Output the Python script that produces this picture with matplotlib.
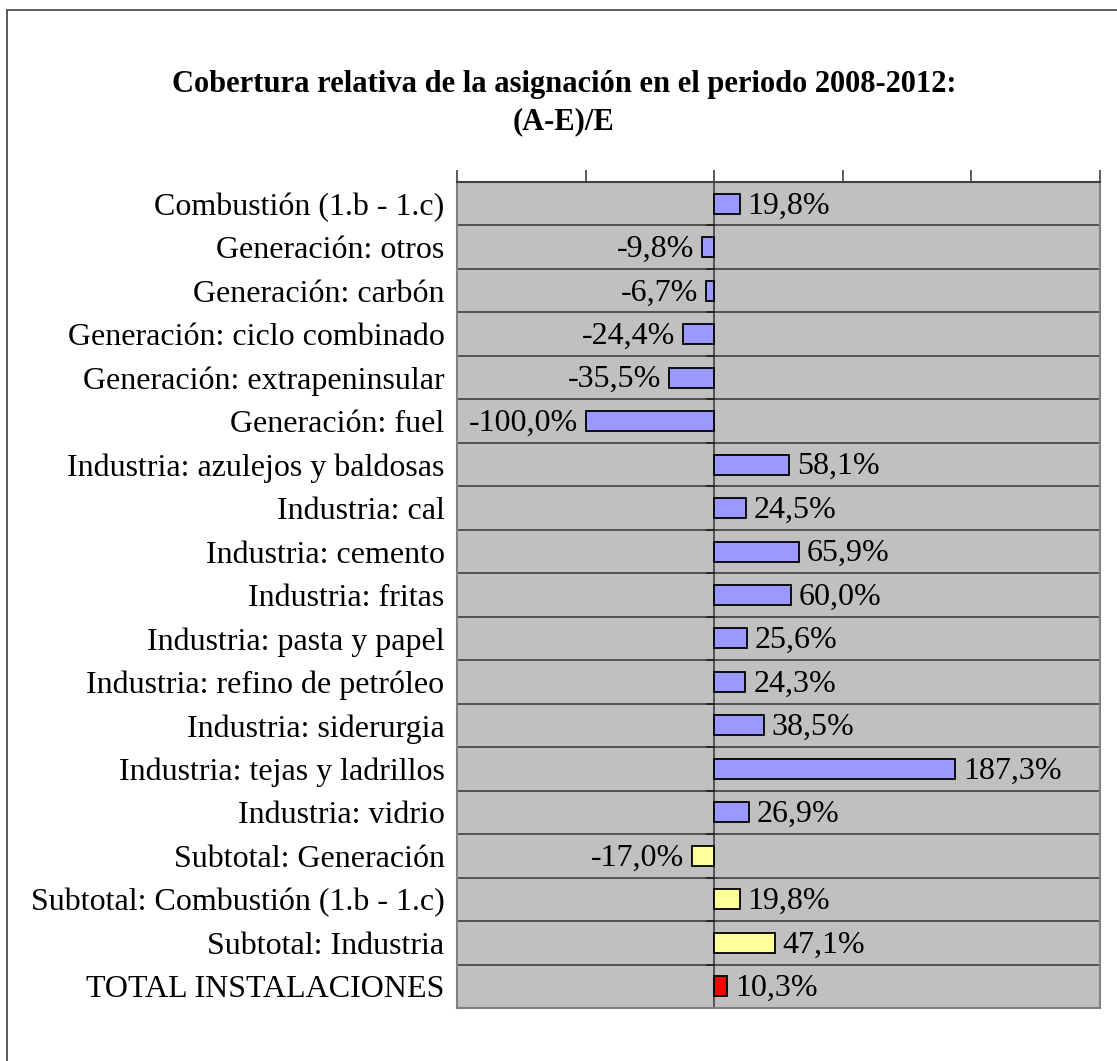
import matplotlib
matplotlib.use("Agg")
import matplotlib.pyplot as plt
from matplotlib.patches import Rectangle

categories = [
    "Combustión (1.b - 1.c)",
    "Generación: otros",
    "Generación: carbón",
    "Generación: ciclo combinado",
    "Generación: extrapeninsular",
    "Generación: fuel",
    "Industria: azulejos y baldosas",
    "Industria: cal",
    "Industria: cemento",
    "Industria: fritas",
    "Industria: pasta y papel",
    "Industria: refino de petróleo",
    "Industria: siderurgia",
    "Industria: tejas y ladrillos",
    "Industria: vidrio",
    "Subtotal: Generación",
    "Subtotal: Combustión (1.b - 1.c)",
    "Subtotal: Industria",
    "TOTAL INSTALACIONES",
]
values = [19.8, -9.8, -6.7, -24.4, -35.5, -100.0, 58.1, 24.5, 65.9, 60.0,
          25.6, 24.3, 38.5, 187.3, 26.9, -17.0, 19.8, 47.1, 10.3]
groups = ["d"] * 15 + ["s"] * 3 + ["t"]
color_map = {"d": "#9999FF", "s": "#FFFF99", "t": "#FF0000"}
ticks = [-200, -100, 0, 100, 200, 300]
title = "Cobertura relativa de la asignación en el periodo 2008-2012:\n(A-E)/E"

plt.rcParams["font.family"] = ["Liberation Serif", "DejaVu Serif"]

W, H = 1117, 1061
fig = plt.figure(figsize=(W / 100, H / 100), dpi=100)
fig.patch.set_facecolor("white")
fig.patches.append(Rectangle((7 / W, -0.01), 1.02, 1 - 10 / H + 0.01,
                             transform=fig.transFigure, fill=False,
                             edgecolor="#404040", linewidth=1.2))

left, right, top, bottom = 457 / W, 1100 / W, 1 - 182 / H, 1 - 1008 / H
ax = fig.add_axes([left, bottom, right - left, top - bottom])
ax.set_facecolor("#C0C0C0")

n = len(categories)
ypos = list(range(n))
colors = [color_map[g] for g in groups]
ax.barh(ypos, values, height=0.46, color=colors, edgecolor="black",
        linewidth=1.3, zorder=3)

ax.set_xlim(-200, 300)
ax.set_ylim(n - 0.5, -0.5)

for i in range(1, n):
    ax.axhline(i - 0.5, color="#404040", linewidth=1.2, zorder=1)
ax.axvline(0, color="#404040", linewidth=1.2, zorder=2)
for i in range(0, n + 1):
    ax.plot([-5.5, 0], [i - 0.5, i - 0.5], color="#202020", linewidth=1.2,
            zorder=2, clip_on=False)

for y, v in zip(ypos, values):
    txt = f"{v:.1f}".replace(".", ",") + "%"
    if v >= 0:
        ax.text(v + 6, y + 0.05, txt, ha="left", va="center", fontsize=23, zorder=4)
    else:
        ax.text(v - 6, y + 0.05, txt, ha="right", va="center", fontsize=23, zorder=4)

ax.set_yticks(ypos)
ax.set_yticklabels(categories, fontsize=23)
ax.tick_params(axis="y", length=0, pad=9)
ax.set_xticks(ticks)
ax.set_xticklabels([])
ax.xaxis.tick_top()
ax.tick_params(axis="x", direction="out", length=9, width=1.2, color="#404040")

for s in ax.spines.values():
    s.set_color("#808080")
    s.set_linewidth(1.5)
ax.spines["top"].set_color("#404040")

fig.text(564 / W, 1 - 103 / H, title, ha="center", va="center",
         fontsize=22, fontweight="bold", linespacing=1.35)

fig.savefig("out.png", dpi=100)
